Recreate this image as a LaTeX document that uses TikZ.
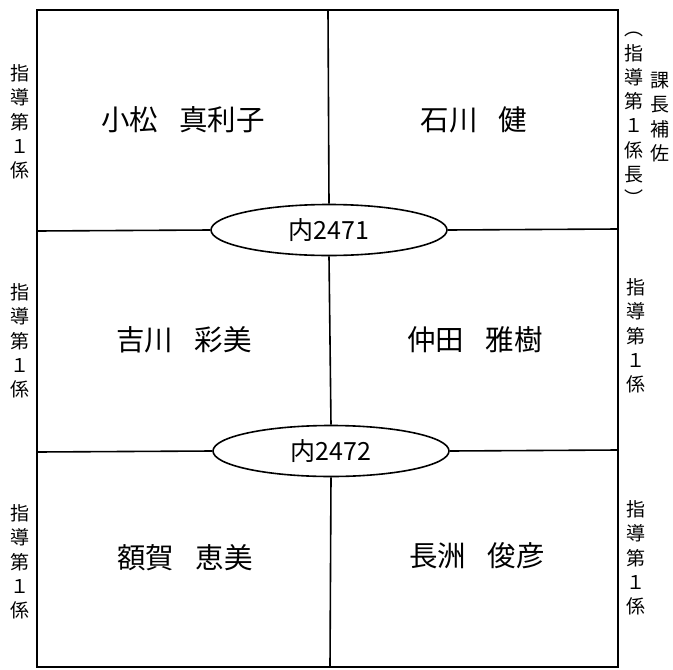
\documentclass[tikz,border=0pt]{standalone}
\usepackage{fontspec}
\setmainfont{Noto Sans CJK JP}
\usetikzlibrary{shapes.geometric}

\begin{document}
\begin{tikzpicture}[
  x=1pt, y=-1pt,
  line width=1.6pt,
  person/.style={font=\fontsize{28.5}{32}\selectfont},
  ext/.style={draw, ellipse, minimum width=236pt, minimum height=51pt, inner sep=0pt, fill=white, font=\fontsize{25}{28}\selectfont},
  side/.style={align=center, inner sep=0pt, font=\fontsize{19}{24.3}\selectfont},
]
\useasboundingbox (0,0) rectangle (673,670);
% frame
\coordinate (nw) at (37,10);
\coordinate (se) at (618,667);
\coordinate (top) at (328,10);
\coordinate (bot) at (330,667);
\coordinate (l1) at (37,231);
\coordinate (r1) at (618,229);
\coordinate (l2) at (37,452);
\coordinate (r2) at (618,450);
\draw (nw) rectangle (se);
% extensions
\node[ext] (in1) at (329,230) {内2471};
\node[ext] (in2) at (331,451) {内2472};
\draw (top) -- (in1.north);
\draw (in1.south) -- (in2.north);
\draw (in2.south) -- (bot);
\draw (l1) -- (in1.west);
\draw (in1.east) -- (r1);
\draw (l2) -- (in2.west);
\draw (in2.east) -- (r2);
% names
\node[person] (komatsu) at (183,120) {小松\hspace{0.75em}真利子};
\node[person] (ishikawa) at (474,120) {石川\hspace{0.75em}健};
\node[person] (yoshikawa) at (184,340) {吉川\hspace{0.75em}彩美};
\node[person] (nakata) at (475,340) {仲田\hspace{0.75em}雅樹};
\node[person] (nuka) at (185,558) {額賀\hspace{0.75em}恵美};
\node[person] (nagasu) at (477,556) {長洲\hspace{0.75em}俊彦};
% posts
\node[side] (p1) at (20,122) {指\\導\\第\\１\\係};
\node[side] (p3) at (20,341) {指\\導\\第\\１\\係};
\node[side] (p5) at (20,562) {指\\導\\第\\１\\係};
\node[side] (p2a) at (634,119) {︵\\指\\導\\第\\１\\係\\長\\︶};
\node[side] (p2b) at (660,117) {課\\長\\補\\佐};
\node[side] (p4) at (636,336) {指\\導\\第\\１\\係};
\node[side] (p6) at (636,558) {指\\導\\第\\１\\係};
\end{tikzpicture}
\end{document}
